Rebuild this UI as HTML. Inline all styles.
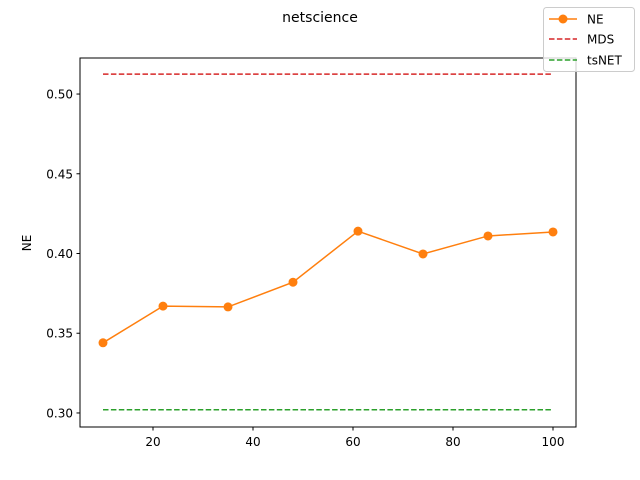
<!DOCTYPE html>
<html><head><meta charset="utf-8"><style>
html,body{margin:0;padding:0;background:#fff;}
svg{display:block;font-family:"DejaVu Sans","Liberation Sans",sans-serif;}
</style></head><body>
<svg id="chart" width="640" height="480">
<text x="320" y="22" text-anchor="middle" font-size="14">netscience</text>
<text transform="translate(31,243) rotate(-90)" text-anchor="middle" font-size="12">NE</text>
<g id="ticks"></g>
<g id="plot"></g>
<rect x="80" y="58" width="496" height="369" fill="none" stroke="#000" stroke-width="1"/>
<g>
<rect x="543.5" y="7.5" width="91" height="64" rx="3" fill="#fff" fill-opacity="0.8" stroke="#ccc"/>
<g>
<line x1="549" y1="19" x2="577" y2="19" stroke="#ff7f0e" stroke-width="1.5"/><circle cx="563" cy="19" r="4.5" fill="#ff7f0e"/>
<text x="587" y="23.5" font-size="12">NE</text></g>
<g>
<line x1="549" y1="39" x2="577" y2="39" stroke="#d62728" stroke-width="1.5" stroke-dasharray="5.5,2.4"/>
<text x="587" y="43.5" font-size="12">MDS</text></g>
<g>
<line x1="549" y1="60" x2="577" y2="60" stroke="#2ca02c" stroke-width="1.5" stroke-dasharray="5.5,2.4"/>
<text x="587" y="64.5" font-size="12">tsNET</text></g>
</g>
</svg>
<script>
const xs=[10,22,35,48,61,74,87,100];
const neVals=[0.344,0.367,0.3665,0.382,0.414,0.3997,0.411,0.4135];
const mdsVal=[0.5125];
const tsnetVal=[0.302];
const xTicks=[20,40,60,80,100];
const yTicks=[0.30,0.35,0.40,0.45,0.50];
const NS="http://www.w3.org/2000/svg";
const X=v=>80+(v-5.4)/(104.6-5.4)*496;
const Y=v=>427-(v-0.2912)/(0.5226-0.2912)*369;
function mk(t,a,p){const e=document.createElementNS(NS,t);for(const k in a)e.setAttribute(k,a[k]);p.appendChild(e);return e;}
const tk=document.getElementById('ticks'),pl=document.getElementById('plot');
xTicks.forEach(v=>{const g=mk('g',{},tk);


mk('line',{x1:X(v),x2:X(v),y1:427,y2:430.5,stroke:'#000'},g);
const t=mk('text',{x:X(v),y:446,'text-anchor':'middle','font-size':12},g);t.textContent=v;});
yTicks.forEach(v=>{const g=mk('g',{},tk);


mk('line',{x1:76.5,x2:80,y1:Y(v),y2:Y(v),stroke:'#000'},g);
const t=mk('text',{x:73,y:Y(v)+4.5,'text-anchor':'end','font-size':12},g);t.textContent=v.toFixed(2);});
const x0=X(xs[0]),x1=X(xs[xs.length-1]);
const m=mk('line',{x1:x0,x2:x1,y1:Y(mdsVal[0]),y2:Y(mdsVal[0]),stroke:'#d62728','stroke-width':1.5,'stroke-dasharray':'5.5,2.4'},pl);


const ts=mk('line',{x1:x0,x2:x1,y1:Y(tsnetVal[0]),y2:Y(tsnetVal[0]),stroke:'#2ca02c','stroke-width':1.5,'stroke-dasharray':'5.5,2.4'},pl);


const ne=mk('polyline',{points:xs.map((x,i)=>X(x)+','+Y(neVals[i])).join(' '),fill:'none',stroke:'#ff7f0e','stroke-width':1.5},pl);


xs.forEach((x,i)=>{const c=mk('circle',{cx:X(x),cy:Y(neVals[i]),r:4.5,fill:'#ff7f0e'},pl);

});
</script>
</body></html>
